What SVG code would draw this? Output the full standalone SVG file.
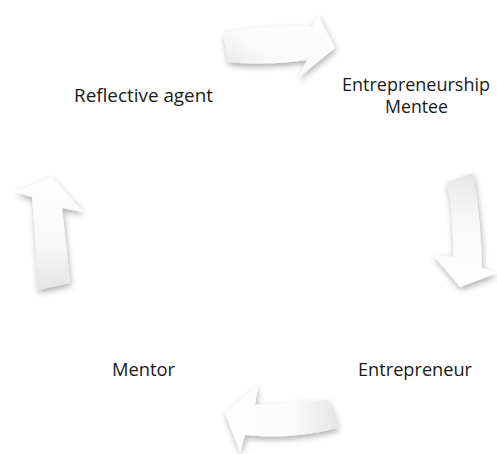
<svg xmlns="http://www.w3.org/2000/svg" width="497" height="454" viewBox="0 0 497 454">
<style>
.lbl{font-family:"Open Sans","Liberation Sans",sans-serif;font-size:18px;fill:#1a1a1a;text-anchor:middle}
.arr{stroke:none;filter:url(#sh)}
</style>
<defs>
<filter id="sh" x="-30%" y="-30%" width="160%" height="160%">
<feDropShadow dx="1" dy="3" stdDeviation="3" flood-color="#000" flood-opacity="0.32"/>
</filter>
<linearGradient id="gT" x1="1" y1="0" x2="0" y2="1"><stop offset="0" stop-color="#fff"/><stop offset="0.6" stop-color="#fafafa"/><stop offset="1" stop-color="#e2e2e2"/></linearGradient>
<linearGradient id="gR" x1="0" y1="1" x2="0" y2="0"><stop offset="0" stop-color="#fff"/><stop offset="0.6" stop-color="#f8f8f8"/><stop offset="1" stop-color="#e6e6e6"/></linearGradient>
<linearGradient id="gB" x1="0" y1="0" x2="1" y2="0"><stop offset="0" stop-color="#fff"/><stop offset="0.6" stop-color="#fafafa"/><stop offset="1" stop-color="#e6e6e6"/></linearGradient>
<linearGradient id="gL" x1="0" y1="0" x2="0" y2="1"><stop offset="0" stop-color="#fff"/><stop offset="0.6" stop-color="#f8f8f8"/><stop offset="1" stop-color="#e4e4e4"/></linearGradient>
</defs>
<g id="connectors">
<path class="arr" fill="url(#gT)" d="M223,33 Q265,24 312,27 L318,15 L335,48 L298,78 L307,60 Q265,66 228,62 Z"/>
<path class="arr" fill="url(#gR)" d="M447,182 L473,173 Q481,220 482,268 L497,273 L460,287 L433,255 L453,257 Q454,215 447,182 Z"/>
<path class="arr" fill="url(#gB)" d="M328,400 Q290,403 255,405 L258,385 L225,413 L240,452 L245,435 Q290,440 338,428 Z"/>
<path class="arr" fill="url(#gL)" d="M38,290 Q36,240 32,197 L15,192 L52,177 L83,212 L62,208 Q66,245 70,283 Z"/>
</g>
<g id="node-reflective-agent"><text class="lbl" x="143.5" y="102" textLength="139" lengthAdjust="spacingAndGlyphs">Reflective agent</text></g>
<g id="node-entrepreneurship-mentee"><text class="lbl" x="416" y="91" textLength="148" lengthAdjust="spacingAndGlyphs">Entrepreneurship</text><text class="lbl" x="416.5" y="113" textLength="63" lengthAdjust="spacingAndGlyphs">Mentee</text></g>
<g id="node-entrepreneur"><text class="lbl" x="415" y="376" textLength="114" lengthAdjust="spacingAndGlyphs">Entrepreneur</text></g>
<g id="node-mentor"><text class="lbl" x="143.5" y="376" textLength="63" lengthAdjust="spacingAndGlyphs">Mentor</text></g>
</svg>
